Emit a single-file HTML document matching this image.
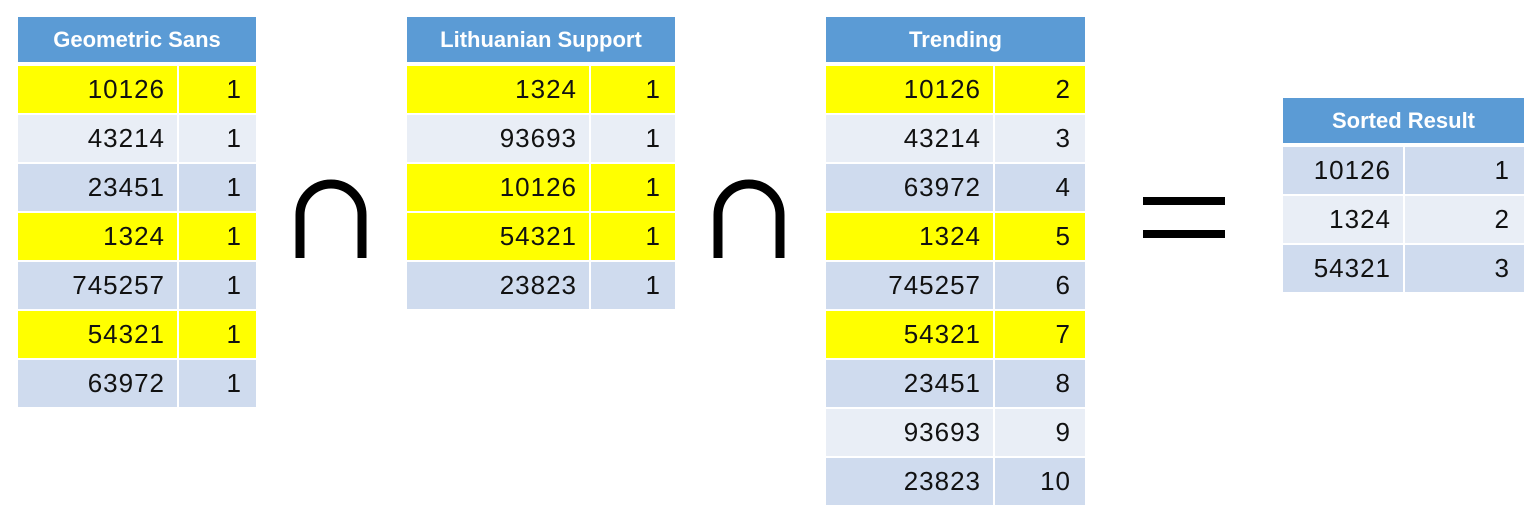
<!DOCTYPE html>
<html><head><meta charset="utf-8">
<style>
body{margin:0;width:1536px;height:519px;background:#fff;position:relative;overflow:hidden;font-family:"Liberation Sans",sans-serif;}
.c{position:absolute;box-sizing:border-box;font-size:26px;letter-spacing:1px;color:#111;text-align:right;display:flex;align-items:center;justify-content:flex-end;}
.h{position:absolute;background:#5B9BD5;color:#fff;font-weight:bold;font-size:22px;display:flex;align-items:center;justify-content:center;}
</style></head><body>
<svg width="1536" height="519" style="position:absolute;left:0;top:0">
<path d="M300 258 V215 A31 31 0 0 1 362 215 V258" fill="none" stroke="#000" stroke-width="9"/>
<path d="M718 258 V215 A31 31 0 0 1 780 215 V258" fill="none" stroke="#000" stroke-width="9"/>
<rect x="1143" y="197" width="82" height="8" fill="#000"/>
<rect x="1143" y="230" width="82" height="8" fill="#000"/>
</svg>
<script>
const t1Ids=["10126","43214","23451","1324","745257","54321","63972"];
const t1Vals=["1","1","1","1","1","1","1"];
const t1Hi=[1,0,0,1,0,1,0];
const t2Ids=["1324","93693","10126","54321","23823"];
const t2Vals=["1","1","1","1","1"];
const t2Hi=[1,0,1,1,0];
const t3Ids=["10126","43214","63972","1324","745257","54321","23451","93693","23823"];
const t3Vals=["2","3","4","5","6","7","8","9","10"];
const t3Hi=[1,0,0,1,0,1,0,0,0];
const t4Ids=["10126","1324","54321"];
const t4Vals=["1","2","3"];
const t4Hi=[0,0,0];
function table(name,title,ids,vals,hi,x0,split,x1,hy,hh,ry,pitch){
  const h=document.createElement('div');h.className='h';
  
  
  h.style.cssText=`left:${x0}px;top:${hy}px;width:${x1-x0}px;height:${hh}px`;
  h.textContent=title;document.body.appendChild(h);
  ids.forEach((id,i)=>{
    const bg=hi[i]?'#FFFF00':(i%2==0?'#CFDBEE':'#E9EEF6');
    const y=ry+i*pitch;
    [[x0,split,id,12,'id'],[split+2,x1,vals[i],14,'value']].forEach(([a,b,t,p,k])=>{
      const d=document.createElement('div');d.className='c';
      
      
      d.style.cssText=`left:${a}px;top:${y}px;width:${b-a}px;height:${pitch-2}px;background:${bg};padding-right:${p}px`;
      d.textContent=t;document.body.appendChild(d);
    });
  });
}
table('geometric-sans','Geometric Sans',t1Ids,t1Vals,t1Hi,18,177,256,17,45,66,49);
table('lithuanian-support','Lithuanian Support',t2Ids,t2Vals,t2Hi,407,589,675,17,45,66,49);
table('trending','Trending',t3Ids,t3Vals,t3Hi,826,993,1085,17,45,66,49);
table('sorted-result','Sorted Result',t4Ids,t4Vals,t4Hi,1283,1403,1524,98,45,147,49);
</script>
</body></html>
